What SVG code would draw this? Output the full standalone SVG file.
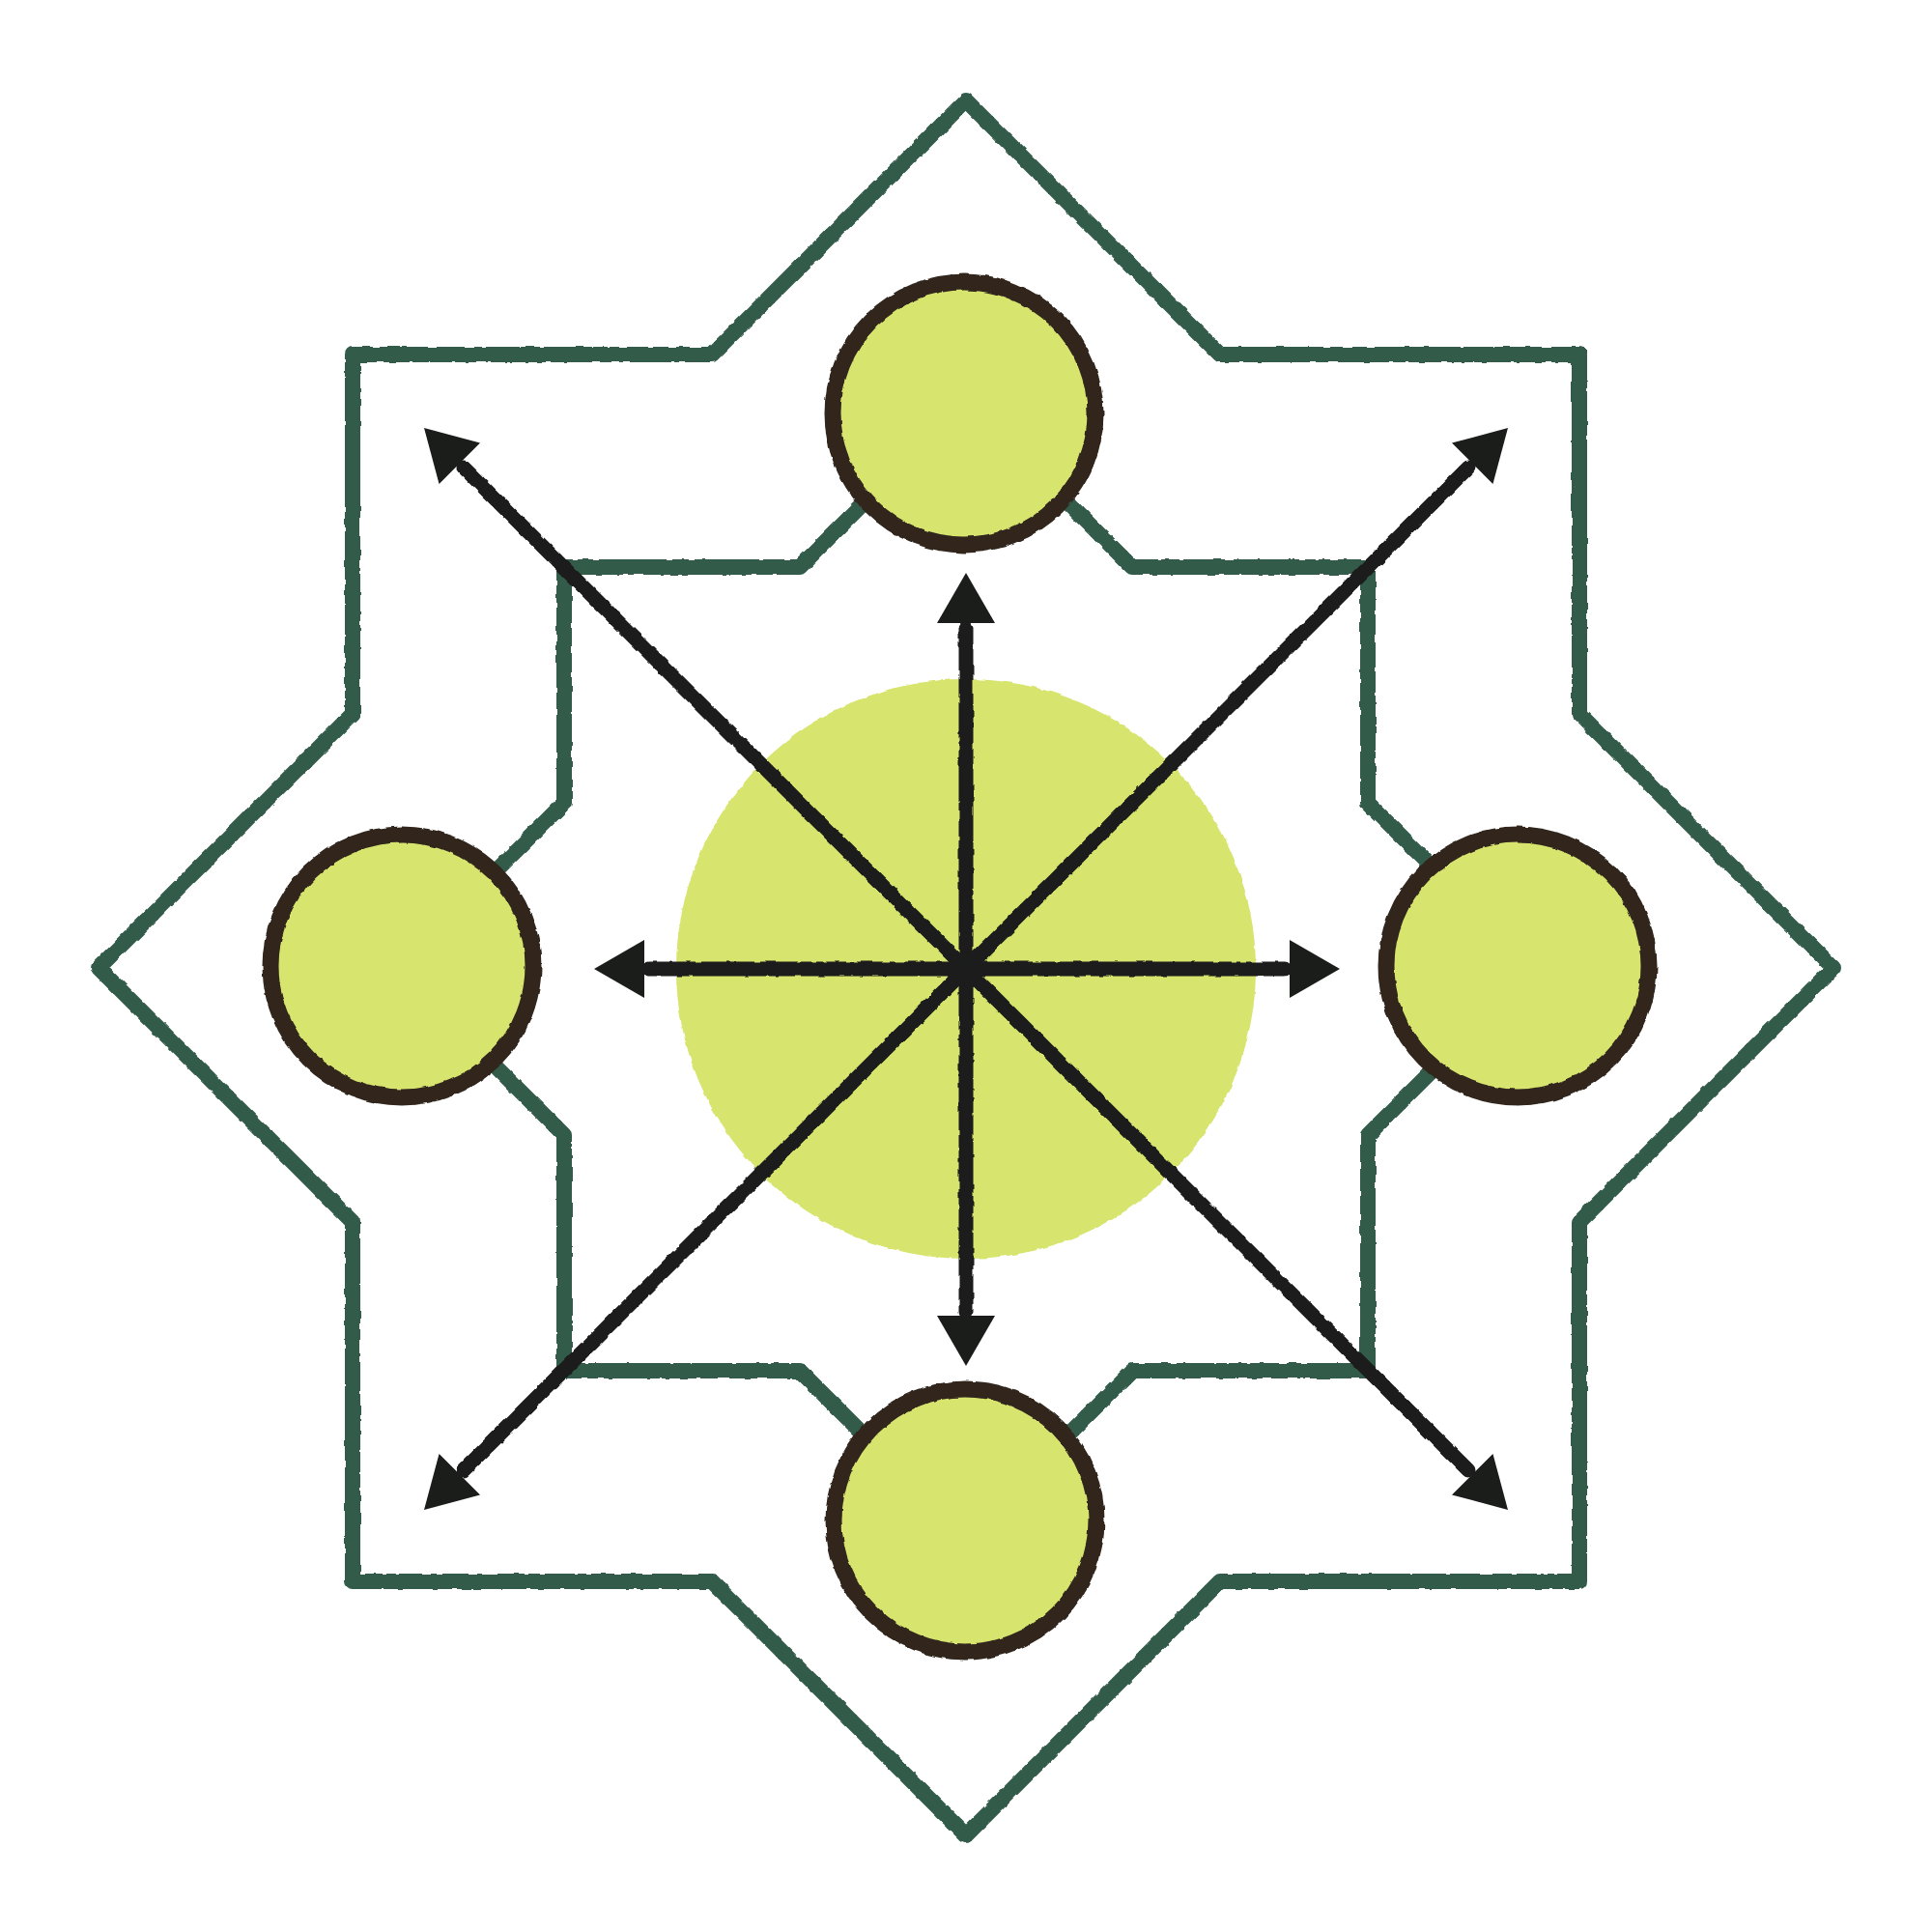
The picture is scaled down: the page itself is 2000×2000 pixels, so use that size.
<svg xmlns="http://www.w3.org/2000/svg" xmlns:xlink="http://www.w3.org/1999/xlink" width="2000" height="2000" viewBox="0 0 2000 2000">
<style>
.star{fill:none;stroke:#305c4a;stroke-width:16;stroke-linejoin:round;stroke-linecap:round}
.node{fill:#d7e46d;stroke:#30271f;stroke-width:17}
.hub{fill:#d7e46d;stroke:none}
.shaft{stroke:#1b1d1b;stroke-width:15;stroke-linecap:round;fill:none}
.head{fill:#1b1d1b}
</style>
<defs>
<filter id="rough" filterUnits="userSpaceOnUse" x="0" y="0" width="2000" height="2000">
<feTurbulence type="fractalNoise" baseFrequency="0.09" numOctaves="2" seed="4"/>
<feDisplacementMap in="SourceGraphic" scale="3.5" xChannelSelector="R" yChannelSelector="G"/>
</filter>
<path id="head" d="M0,0 L-52,-30 L-52,30 Z"/>
</defs>
<rect width="2000" height="2000" fill="#ffffff"/>
<g id="outer-star" filter="url(#rough)">
<path class="star" d="M365,367 L737,367 L1000,104 L1263,367 L1635,367 L1635,739 L1898,1002 L1635,1265 L1635,1637 L1263,1637 L1000,1900 L737,1637 L365,1637 L365,1265 L102,1002 L365,739 Z"/>
</g>
<g id="inner-star" filter="url(#rough)">
<path class="star" d="M584,587 L828,587 L1000,415 L1172,587 L1416,587 L1416,831 L1588,1003 L1416,1175 L1416,1419 L1172,1419 L1000,1591 L828,1419 L584,1419 L584,1175 L412,1003 L584,831 Z"/>
</g>
<g id="hub" filter="url(#rough)">
<circle class="hub" cx="1000" cy="1003" r="300"/>
</g>
<g id="node-top" filter="url(#rough)"><circle class="node" cx="998" cy="428" r="136"/></g>
<g id="node-left" filter="url(#rough)"><circle class="node" cx="416" cy="1000" r="136"/></g>
<g id="node-right" filter="url(#rough)"><circle class="node" cx="1571" cy="1000" r="136"/></g>
<g id="node-bottom" filter="url(#rough)"><circle class="node" cx="999" cy="1574" r="136"/></g>
<g id="connectors">
<g filter="url(#rough)">
<line class="shaft" x1="1000" y1="1003" x2="1000" y2="650"/>
<line class="shaft" x1="1000" y1="1003" x2="1000" y2="1358"/>
<line class="shaft" x1="1000" y1="1003" x2="672" y2="1003"/>
<line class="shaft" x1="1000" y1="1003" x2="1330" y2="1003"/>
<line class="shaft" x1="1000" y1="1003" x2="480" y2="484"/>
<line class="shaft" x1="1000" y1="1003" x2="1520" y2="484"/>
<line class="shaft" x1="1000" y1="1003" x2="480" y2="1522"/>
<line class="shaft" x1="1000" y1="1003" x2="1520" y2="1522"/>
</g>
<use class="head" xlink:href="#head" href="#head" transform="translate(1000,593) rotate(-90)"/>
<use class="head" xlink:href="#head" href="#head" transform="translate(1000,1414) rotate(90)"/>
<use class="head" xlink:href="#head" href="#head" transform="translate(615,1003) rotate(180)"/>
<use class="head" xlink:href="#head" href="#head" transform="translate(1387,1003)"/>
<use class="head" xlink:href="#head" href="#head" transform="translate(439,443) rotate(-135)"/>
<use class="head" xlink:href="#head" href="#head" transform="translate(1561,443) rotate(-45)"/>
<use class="head" xlink:href="#head" href="#head" transform="translate(439,1563) rotate(135)"/>
<use class="head" xlink:href="#head" href="#head" transform="translate(1561,1563) rotate(45)"/>
</g>
</svg>
